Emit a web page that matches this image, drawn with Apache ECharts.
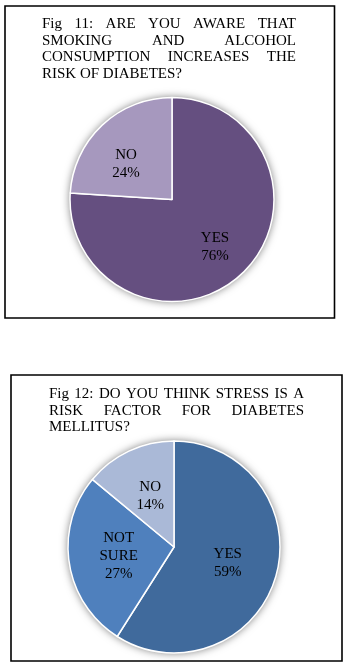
<!DOCTYPE html>
<html>
<head>
<meta charset="utf-8">
<script src="https://cdn.jsdelivr.net/npm/echarts@6/dist/echarts.min.js"></script>
<style>
  html, body { margin: 0; padding: 0; background: #fff; }
  #chart { width: 345px; height: 668px; }
</style>
</head>
<body>
<div id="chart"></div>
<script>
// Figure 11: awareness of smoking/alcohol as a diabetes risk
const fig11Title = ['Fig 11: ARE YOU AWARE THAT', 'SMOKING AND ALCOHOL', 'CONSUMPTION INCREASES THE', 'RISK OF DIABETES?'];
const fig11Categories = ['YES', 'NO'];
const fig11Values = [76, 24];

// Figure 12: stress as a risk factor
const fig12Title = ['Fig 12: DO YOU THINK STRESS IS A', 'RISK FACTOR FOR DIABETES', 'MELLITUS?'];
const fig12Categories = ['YES', 'NOT SURE', 'NO'];
const fig12Values = [59, 27, 14];

const SERIF = '"Liberation Serif", "Times New Roman", serif';
const TITLE_FONT = '15px ' + SERIF;

const measureCtx = document.createElement('canvas').getContext('2d');
measureCtx.font = TITLE_FONT;

// Justified paragraph: every line but the last is stretched to the full width
function justifiedText(lines, left, right, firstBaseline, lineStep) {
  const out = [];
  lines.forEach(function (line, li) {
    const words = line.split(' ');
    const y = firstBaseline + li * lineStep - 5;
    const last = li === lines.length - 1;
    const widths = words.map(function (w) { return measureCtx.measureText(w).width; });
    const sum = widths.reduce(function (a, b) { return a + b; }, 0);
    const gap = (last || words.length < 2)
      ? measureCtx.measureText(' ').width
      : (right - left - sum) / (words.length - 1);
    let x = left;
    words.forEach(function (w, wi) {
      out.push({
        type: 'text',
        silent: true,
        style: { text: w, x: x, y: y, font: TITLE_FONT, fill: '#000',
                 textAlign: 'left', verticalAlign: 'middle' }
      });
      x += widths[wi] + gap;
    });
  });
  return out;
}

function pieData(names, values, colors, offsets) {
  return names.map(function (n, i) {
    return {
      name: n,
      value: values[i],
      itemStyle: { color: colors[i] },
      label: { offset: offsets[i] }
    };
  });
}

function sliceLabel(p) {
  return p.name.split(' ').join('\n') + '\n' + p.value + '%';
}

const labelStyle = {
  show: true,
  position: 'inside',
  formatter: sliceLabel,
  fontFamily: SERIF,
  fontSize: 15,
  lineHeight: 18,
  color: '#000'
};

// Plain disc behind each pie that carries the soft grey halo
function backing(center, radius, total) {
  return {
    type: 'pie',
    silent: true,
    z: 1,
    center: center,
    radius: radius,
    label: { show: false },
    labelLine: { show: false },
    itemStyle: {
      color: '#fff',
      shadowBlur: 9,
      shadowColor: 'rgba(0,0,0,0.55)'
    },
    data: [{ value: total, name: '' }]
  };
}

const sum11 = fig11Values.reduce(function (a, b) { return a + b; }, 0);
const sum12 = fig12Values.reduce(function (a, b) { return a + b; }, 0);

const chart = echarts.init(document.getElementById('chart'), null, { renderer: 'canvas' });

chart.setOption({
  backgroundColor: '#fff',
  animation: false,
  graphic: [
    { type: 'rect', silent: true,
      shape: { x: 5, y: 6, width: 329.5, height: 312 },
      style: { fill: 'none', stroke: '#000', lineWidth: 1.6 } },
    { type: 'rect', silent: true,
      shape: { x: 11, y: 375, width: 331, height: 286 },
      style: { fill: 'none', stroke: '#000', lineWidth: 1.6 } }
  ].concat(
    justifiedText(fig11Title, 42, 296, 29.5, 16.4),
    justifiedText(fig12Title, 49, 304, 399.3, 16.4)
  ),
  series: [
    backing([172, 199.5], 102, sum11),
    {
      type: 'pie',
      z: 2,
      center: [172, 199.5],
      radius: 102,
      startAngle: 90,
      clockwise: true,
      label: labelStyle,
      labelLine: { show: false },
      itemStyle: { borderColor: '#fff', borderWidth: 1.5 },
      emphasis: { disabled: true },
      data: pieData(fig11Categories, fig11Values, ['#654f80', '#a698be'], [[6, 8], [-9, 4]])
    },
    backing([174, 547], 106, sum12),
    {
      type: 'pie',
      z: 2,
      center: [174, 547],
      radius: 106,
      startAngle: 90,
      clockwise: true,
      label: labelStyle,
      labelLine: { show: false },
      itemStyle: { borderColor: '#fff', borderWidth: 1.5 },
      emphasis: { disabled: true },
      data: pieData(fig12Categories, fig12Values, ['#406a9c', '#4f80bd', '#aab9d7'], [[0, 0], [0, 0], [0, 0]])
    }
  ]
});
</script>
</body>
</html>
